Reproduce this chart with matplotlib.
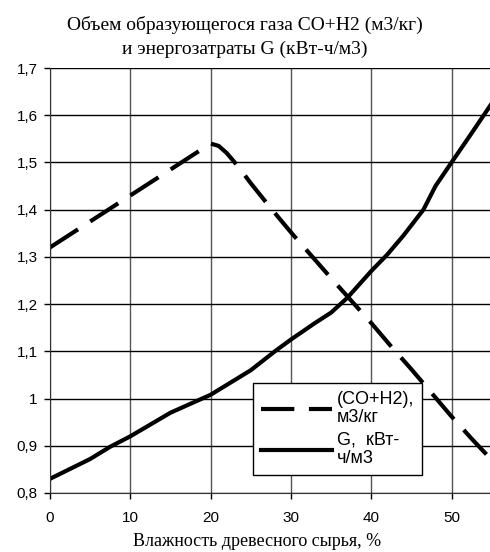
import matplotlib
matplotlib.use('Agg')
from matplotlib import pyplot as plt
from matplotlib.ticker import FuncFormatter, MultipleLocator

# moisture of wood raw material, %
x_gas = [0, 5, 10, 15, 20, 21, 22, 23.5, 25, 27.5, 30, 35, 40, 42.5, 45, 47.5, 50, 52.5, 55]
gas = [1.32, 1.375, 1.43, 1.485, 1.54, 1.535, 1.52, 1.49, 1.456, 1.403, 1.352, 1.255, 1.16,
       1.11, 1.062, 1.012, 0.962, 0.915, 0.87]

x_en = [0, 5, 7.5, 10, 15, 20, 25, 28, 30, 33, 35, 37, 40, 42, 44, 46.5, 48, 50, 52.5, 55]
energy = [0.83, 0.872, 0.898, 0.92, 0.97, 1.008, 1.06, 1.1, 1.125, 1.16, 1.182, 1.213, 1.27,
          1.305, 1.345, 1.4, 1.45, 1.5, 1.562, 1.625]

labels = ['(CO+H2),\nм3/кг', 'G,  кВт-\nч/м3']
title = 'Объем образующегося газа CO+H2 (м3/кг)\nи энергозатраты G (кВт-ч/м3)'
xlabel = 'Влажность древесного сырья, %'

fig = plt.figure(figsize=(4.9, 5.52), dpi=100)
ax = fig.add_axes([50 / 490, 1 - 493 / 552, 441.7 / 490, 425 / 552])

ax.plot(x_gas, gas, color='black', lw=3, dashes=(8, 3.5), label=labels[0])
ax.plot(x_en, energy, color='black', lw=3, label=labels[1])

ax.set_xlim(0, 55)
ax.set_ylim(0.8, 1.7)
ax.xaxis.set_major_locator(MultipleLocator(10))
ax.yaxis.set_major_locator(MultipleLocator(0.1))
ax.yaxis.set_major_formatter(FuncFormatter(lambda v, p: '{:g}'.format(round(v, 2)).replace('.', ',')))
ax.grid(axis='y', color='black', lw=1)
ax.grid(axis='x', color='#555555', lw=1)
ax.set_axisbelow(True)
ax.spines['top'].set_visible(False)
ax.spines['right'].set_visible(False)
ax.spines['left'].set_color('#333333')
ax.spines['bottom'].set_color('#333333')
ax.tick_params(direction='out', length=4, width=1, labelsize=11)
ax.tick_params(axis='x', pad=9)
ax.tick_params(axis='y', pad=5)
for t in ax.get_xticklabels() + ax.get_yticklabels():
    t.set_family('Liberation Sans')

leg = ax.legend(loc='upper left', bbox_to_anchor=(253 / 490, 1 - 383 / 552),
                bbox_transform=fig.transFigure,
                handlelength=3.9, handletextpad=0.3, borderpad=0.45, labelspacing=0.3,
                borderaxespad=0, fancybox=False, edgecolor='black', framealpha=1,
                prop={'family': 'Liberation Sans', 'size': 13})
leg.get_frame().set_linewidth(1)
for t in leg.get_texts():
    t.set_linespacing(1.1)

fig.text(0.5, 1 - 37 / 552, title, ha='center', va='center', family='Liberation Serif',
         fontsize=14, linespacing=1.5)
fig.text(257 / 490, 1 - 541 / 552, xlabel, ha='center', va='center',
         family='Liberation Serif', fontsize=13)

plt.savefig('out.png', dpi=100)
